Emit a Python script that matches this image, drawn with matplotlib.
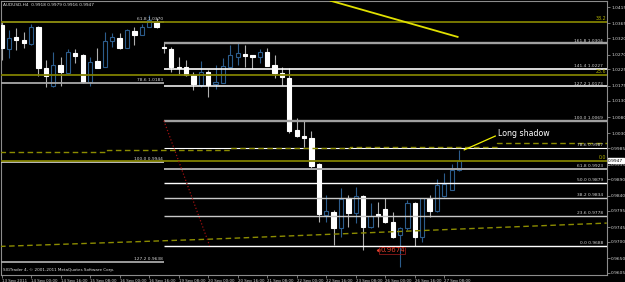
import matplotlib
matplotlib.use('Agg')
import matplotlib.pyplot as plt
import matplotlib.transforms as mtransforms
import numpy as np

# H4 bars, index 0 = 14 Sep 2011 00:00
bars = list(range(-4, 59))
opens = [1.0360, 1.0287, 1.0324, 1.0315, 1.0302, 1.0355, 1.0229, 1.0174, 1.0238, 1.0214,
         1.0275, 1.0269, 1.0187, 1.0251, 1.0233, 1.0313, 1.0321, 1.0290, 1.0342, 1.0330,
         1.0355, 1.0369, 1.0293, 1.0287, 1.0232, 1.0232, 1.0208, 1.0176, 1.0216, 1.0180,
         1.0184, 1.0233, 1.0263, 1.0272, 1.0269, 1.0262, 1.0277, 1.0238, 1.0214, 1.0199,
         1.0040, 1.0022, 1.0016, 0.9937, 0.9782, 0.9791, 0.9742, 0.9833, 0.9788, 0.9840,
         0.9745, 0.9785, 0.9800, 0.9761, 0.9720, 0.9742, 0.9818, 0.9715, 0.9830, 0.9794,
         0.9840, 0.9858, 0.9918]
highs = [1.0369, 1.0345, 1.0351, 1.0339, 1.0363, 1.0357, 1.0254, 1.0278, 1.0264, 1.0286,
         1.0286, 1.0271, 1.0264, 1.0289, 1.0340, 1.0335, 1.0335, 1.0348, 1.0355, 1.0363,
         1.0391, 1.0381, 1.0308, 1.0293, 1.0263, 1.0254, 1.0218, 1.0251, 1.0223, 1.0238,
         1.0259, 1.0299, 1.0305, 1.0299, 1.0270, 1.0286, 1.0290, 1.0269, 1.0232, 1.0229,
         1.0077, 1.0068, 1.0037, 0.9940, 0.9843, 0.9797, 0.9864, 0.9843, 0.9867, 0.9843,
         0.9818, 0.9822, 0.9833, 0.9791, 0.9745, 0.9827, 0.9822, 0.9833, 0.9843, 0.9891,
         0.9909, 0.9937, 0.9979]
lows = [1.0254, 1.0260, 1.0284, 1.0290, 1.0299, 1.0205, 1.0171, 1.0171, 1.0174, 1.0213,
        1.0245, 1.0184, 1.0174, 1.0229, 1.0232, 1.0294, 1.0287, 1.0289, 1.0299, 1.0329,
        1.0354, 1.0351, 1.0275, 1.0217, 1.0208, 1.0205, 1.0162, 1.0172, 1.0142, 1.0165,
        1.0183, 1.0232, 1.0238, 1.0233, 1.0226, 1.0244, 1.0234, 1.0198, 1.0177, 1.0031,
        1.0019, 0.9989, 0.9925, 0.9760, 0.9760, 0.9690, 0.9715, 0.9745, 0.9757, 0.9674,
        0.9742, 0.9745, 0.9757, 0.9711, 0.9623, 0.9736, 0.9688, 0.9699, 0.9776, 0.9791,
        0.9836, 0.9858, 0.9916]
closes = [1.0290, 1.0321, 1.0315, 1.0305, 1.0353, 1.0229, 1.0205, 1.0238, 1.0217, 1.0277,
          1.0266, 1.0187, 1.0248, 1.0230, 1.0311, 1.0323, 1.0290, 1.0345, 1.0330, 1.0355,
          1.0375, 1.0354, 1.0290, 1.0232, 1.0229, 1.0208, 1.0180, 1.0218, 1.0177, 1.0188,
          1.0235, 1.0269, 1.0274, 1.0266, 1.0262, 1.0277, 1.0235, 1.0214, 1.0201, 1.0037,
          1.0022, 1.0016, 0.9931, 0.9785, 0.9795, 0.9742, 0.9830, 0.9788, 0.9838, 0.9745,
          0.9779, 0.9779, 0.9761, 0.9715, 0.9742, 0.9818, 0.9715, 0.9833, 0.9794, 0.9873,
          0.9876, 0.9919, 0.9947]

date_ticks = [-4, 0, 4, 8, 12, 16, 20, 24, 28, 32, 36, 40, 44, 48, 52, 56]
date_labels = ['13 Sep 2011', '14 Sep 00:00', '14 Sep 16:00', '15 Sep 08:00', '16 Sep 00:00',
               '16 Sep 16:00', '19 Sep 08:00', '20 Sep 00:00', '20 Sep 16:00', '21 Sep 08:00',
               '22 Sep 00:00', '22 Sep 16:00', '23 Sep 08:00', '26 Sep 00:00', '26 Sep 16:00',
               '27 Sep 08:00']
price_ticks = [1.0415, 1.0365, 1.0320, 1.0270, 1.0225, 1.0175, 1.0130, 1.0080, 1.0030,
               0.9985, 0.9935, 0.9890, 0.9840, 0.9795, 0.9745, 0.9700, 0.9650, 0.9605]

# fibo on the right (from 19 Sep 00:00 onward)
fib_r_levels = ['0.0', '23.6', '38.2', '50.0', '61.8', '78.6', '100.0', '127.2', '141.4', '161.8']
fib_r_prices = [0.9688, 0.9778, 0.9834, 0.9879, 0.9923, 0.9987, 1.0069, 1.0173, 1.0227, 1.0304]
fib_r_start = 18
# fibo on the left (ends at 19 Sep 00:00)
fib_l_levels = ['61.8', '78.6', '100.0', '127.2']
fib_l_prices = [1.0370, 1.0183, 0.9944, 0.9638]
# olive fibo across the whole chart
fib_o_levels = ['38.2', '23.6', '0.0']
fib_o_prices = [1.0370, 1.0208, 0.9946]

# drawn objects / indicators
trend_x = [40.6, 57.8]
trend_y = [1.0434, 1.0324]
diag_x = [18, 24.2]
diag_y = [1.0069, 0.9688]
ma_slow_x = [-4.2, 24.2, 52.7, 78.0]
ma_slow_y = [0.9686, 0.9708, 0.9734, 0.9757]
ma_step_x = [-4.2, 10.3, 27.0, 43.2, 63.1, 78.0]
ma_step_y = [0.9973, 0.9979, 0.9987, 0.9990, 1.0000, 1.0000]
shadow_x = [58.7, 62.9]
shadow_y = [0.9980, 1.0022]
low_label_bar = 47.3
low_label_price = 0.9674
last_price = 0.9947

x = np.array(bars)
o = np.array(opens)
h = np.array(highs)
l = np.array(lows)
c = np.array(closes)
up = c >= o

bull = '#2c5c8c'
grey_txt = '#d4d4d4'
olive = '#808000'

fig = plt.figure(figsize=(6.25, 2.82), dpi=100, facecolor='black')
ax = fig.add_axes([1 / 625, 7 / 282, 606 / 625, 273.7 / 282], facecolor='black')
ax.set_xlim(-4.07, 78.04)
ax.set_ylim(0.95989, 1.04324)

# candles
ax.vlines(x[up], l[up], h[up], color=bull, lw=0.8, zorder=2)
ax.vlines(x[~up], l[~up], h[~up], color='#b0b0b0', lw=0.8, zorder=2)
ax.bar(x[up], (c - o)[up], bottom=o[up], width=0.58, facecolor='black',
       edgecolor=bull, lw=0.8, zorder=3)
ax.bar(x[~up], (o - c)[~up], bottom=c[~up], width=0.58, facecolor='white',
       edgecolor='white', lw=0.8, zorder=3)

xmin, xmax = ax.get_xlim()
blend = mtransforms.blended_transform_factory(ax.transAxes, ax.transData)

# right fibo
r_col = ['white', '#c8c8c8', '#c8c8c8', 'white', '#a8a8a8', 'white', '#a0a0a0', 'white', 'white', '#a0a0a0']
r_lw = [1.0, 1.0, 1.0, 1.0, 1.4, 0.8, 1.7, 1.1, 1.2, 1.7]
for lev, p, col, w in zip(fib_r_levels, fib_r_prices, r_col, r_lw):
    ax.hlines(p, fib_r_start, xmax, color=col, lw=w, zorder=4)
    ax.text(0.9935, p + 0.00025, f'{lev} {p:.4f}', transform=blend, ha='right', va='bottom',
            fontsize=3.2, color=grey_txt, zorder=6)

# left fibo
l_col = ['#a0a0a0', '#a8a8a8', '#c8c8c8', '#a8a8a8']
for lev, p, col in zip(fib_l_levels, fib_l_prices, l_col):
    ax.hlines(p, xmin, fib_r_start, color=col, lw=1.3, zorder=4)
    ax.text(fib_r_start - 0.1, p + 0.00025, f'{lev} {p:.4f}', ha='right', va='bottom',
            fontsize=3.2, color=grey_txt, zorder=6)

# olive fibo
for lev, p in zip(fib_o_levels, fib_o_prices):
    ax.hlines(p, xmin, xmax, color=olive, lw=1.3, zorder=4)
    ax.text(0.999, p + 0.0003, lev, transform=blend, ha='right', va='bottom',
            fontsize=3.4, color='#b0b000', zorder=6)

# indicators and drawn lines
ax.plot(ma_slow_x, ma_slow_y, color='#8c8c00', lw=1.0, dashes=(4, 2.5), zorder=4)
ax.plot(ma_step_x, ma_step_y, color='#8c8c00', lw=1.0, dashes=(4, 2.5),
        drawstyle='steps-post', zorder=4)
ax.plot(trend_x, trend_y, color='#e0e000', lw=1.3, zorder=5)
ax.plot(diag_x, diag_y, color='#a01010', lw=0.9, ls=':', zorder=5)
ax.plot(shadow_x, shadow_y, color='#f0f000', lw=0.9, zorder=6)
ax.text(shadow_x[1] + 0.4, 1.0031, 'Long shadow', color='white', fontsize=5.7,
        ha='left', va='center', zorder=6)

ax.plot([low_label_bar - 0.25], [low_label_price], marker='<', ms=1.8, color='#e0402c',
        zorder=6)
ax.text(low_label_bar, low_label_price, f'{low_label_price:.4f}', color='#e8412c',
        fontsize=5, ha='left', va='center', zorder=6,
        bbox=dict(facecolor='none', edgecolor='#8b1a1a', lw=0.6, pad=0.5))

# texts
ax.text(0.0033, 0.993, 'AUDUSD,H4  0.9918 0.9979 0.9916 0.9947', transform=ax.transAxes,
        ha='left', va='top', fontsize=3.1, color='#e0e0e0')
ax.text(0.0033, 0.018, 'SIGTrader 4, \u00a9 2001-2011 MetaQuotes Software Corp.',
        transform=ax.transAxes, ha='left', va='center', fontsize=3.0, color='#e0e0e0')
ax.text(1.002, last_price, f'{last_price:.4f}', transform=blend, ha='left', va='center',
        fontsize=3.2, color='black', clip_on=False, zorder=7,
        bbox=dict(facecolor='white', edgecolor='white', pad=0.4))

# axes
for s in ax.spines.values():
    s.set_color('#8c8c8c')
    s.set_linewidth(0.8)
ax.yaxis.tick_right()
ax.set_yticks(price_ticks)
ax.set_yticklabels([f'{p:.4f}' for p in price_ticks])
ax.set_xticks(date_ticks)
ax.set_xticklabels(date_labels)
for lbl in ax.get_xticklabels():
    lbl.set_ha('left')
ax.tick_params(axis='both', colors='#8c8c8c', labelcolor=grey_txt, length=2, width=0.6, pad=1)
ax.tick_params(axis='y', labelsize=3.2)
ax.tick_params(axis='x', labelsize=2.85)

fig.savefig('out.png', dpi=100, facecolor='black')
